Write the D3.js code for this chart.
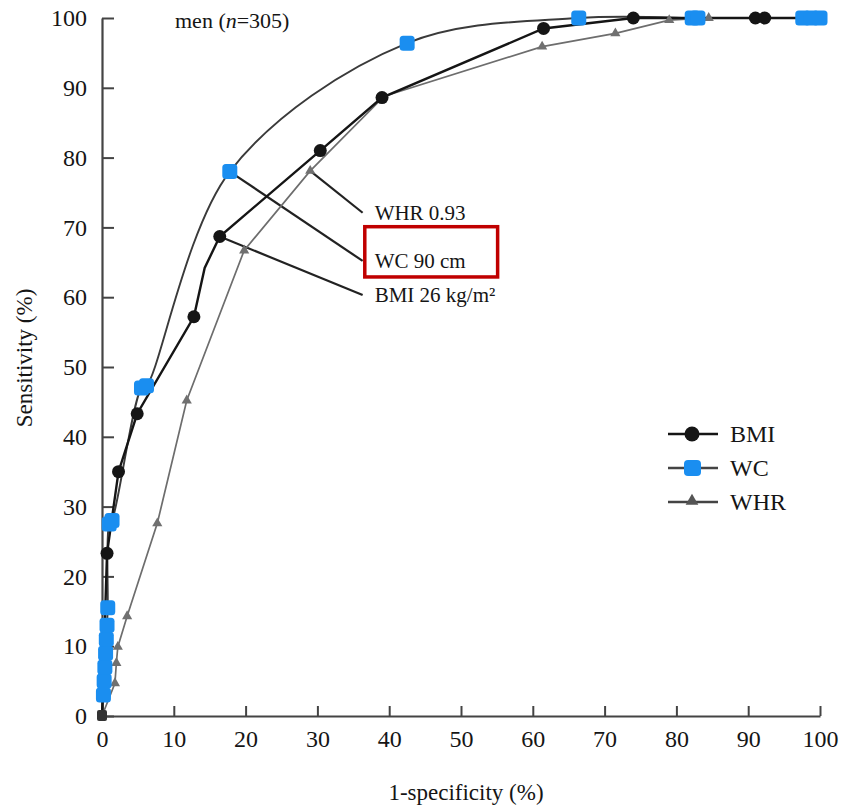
<!DOCTYPE html>
<html>
<head>
<meta charset="utf-8">
<script src="https://cdn.jsdelivr.net/npm/d3@7"></script>
<style>
  body { margin: 0; background: #fff; }
  text { font-family: "Liberation Serif", "Times New Roman", "DejaVu Serif", serif; fill: #151515; }
</style>
</head>
<body>
<div id="chart"></div>
<script>
// ROC points (1-specificity %, sensitivity %)
const bmiX = [0, 0.7, 2.3, 4.9, 12.8, 14.3, 16.4, 30.4, 39, 61.5, 74, 91.0, 92.3, 100];
const bmiY = [0, 23.3, 35, 43.3, 57.2, 64.2, 68.7, 81, 88.6, 98.5, 100, 100, 100, 100];
const bmiHidden = [0, 5, 13];

const wcX = [0, 0.2, 0.3, 0.4, 0.5, 0.6, 0.7, 0.8, 1.0, 1.4, 5.5, 6.2, 17.8, 42.5, 66.4, 82.2, 83.0, 97.6, 98.8, 100];
const wcY = [0, 3, 5, 7, 9, 11, 13, 15.5, 27.5, 28, 47, 47.3, 78, 96.4, 100, 100, 100, 100, 100, 100];
const wcHidden = [0];

const whrX = [0, 1.8, 2.0, 2.2, 3.5, 7.7, 11.8, 19.8, 29, 39.3, 61.3, 71.5, 79, 84.5, 100];
const whrY = [0, 4.7, 7.6, 9.9, 14.3, 27.6, 45.2, 66.7, 78.1, 88.8, 95.9, 97.8, 99.7, 100, 100];
const whrHidden = [0, 9, 14];

const xTicks = [0, 10, 20, 30, 40, 50, 60, 70, 80, 90, 100];
const yTicks = [0, 10, 20, 30, 40, 50, 60, 70, 80, 90, 100];

// cut-off annotations: leader from a curve point to the label
const annoLabels = ["WHR 0.93", "WC 90 cm", "BMI 26 kg/m\u00b2"];
const annoFrom = [[29, 78.1], [17.8, 78], [16.4, 68.7]];
const annoTo = [[36.3, 72.1], [36.3, 65.2], [36.3, 60.3]];
const highlightBox = [36.6, 55.1, 62.9, 70.1]; // x0, x1, y0, y1

const legendNames = ["BMI", "WC", "WHR"];

const width = 853, height = 806;
const blue = "#1a8ef0";

const x = d3.scaleLinear().domain([0, 100]).range([102, 820]);
const y = d3.scaleLinear().domain([0, 100]).range([716, 18]);

const svg = d3.select("#chart").append("svg")
    .attr("width", width)
    .attr("height", height);

// axes
const xAxis = svg.append("g")
    .attr("transform", `translate(0,${y(0)})`)
    .call(d3.axisBottom(x).tickValues(xTicks).tickSize(-10).tickSizeOuter(0).tickPadding(18));
const yAxis = svg.append("g")
    .attr("transform", `translate(${x(0)},0)`)
    .call(d3.axisLeft(y).tickValues(yTicks).tickSize(-12).tickSizeOuter(0).tickPadding(15));

[xAxis, yAxis].forEach(g => {
    g.attr("font-family", null);
    g.select(".domain").attr("stroke", "#444").attr("stroke-width", 2.2);
    g.selectAll(".tick line").attr("stroke", "#444").attr("stroke-width", 2);
    g.selectAll(".tick text")
        .attr("fill", "#151515")
        .style("font-size", "24px");
});
xAxis.selectAll(".tick text").attr("dy", "0.55em");
yAxis.selectAll(".tick text").attr("dy", "0.32em");

svg.append("text")
    .attr("x", 466)
    .attr("y", 800)
    .attr("text-anchor", "middle")
    .style("font-size", "23px")
    .text("1-specificity (%)");

svg.append("text")
    .attr("transform", "translate(32,358) rotate(-90)")
    .attr("text-anchor", "middle")
    .style("font-size", "23px")
    .text("Sensitivity (%)");

const title = svg.append("text")
    .attr("x", 175)
    .attr("y", 28)
    .style("font-size", "22px");
title.append("tspan").text("men (");
title.append("tspan").style("font-style", "italic").text("n");
title.append("tspan").text("=305)");

// curves: straight segments for BMI/WHR, smooth arc for WC
const straight = d3.line()
    .x(d => x(d[0]))
    .y(d => y(d[1]));
const smooth = d3.line()
    .x(d => x(d[0]))
    .y(d => Math.max(y(100), y(d[1])))
    .curve(d3.curveCatmullRom.alpha(0.5));

const zip = (xs, ys) => xs.map((v, i) => [v, ys[i]]);
const bmi = zip(bmiX, bmiY);
const wc = zip(wcX, wcY);
const whr = zip(whrX, whrY);

// leader lines
svg.selectAll(".leader")
    .data(annoLabels)
    .enter()
    .append("line")
    .attr("class", "leader")
    .attr("x1", (d, i) => x(annoFrom[i][0]))
    .attr("y1", (d, i) => y(annoFrom[i][1]))
    .attr("x2", (d, i) => x(annoTo[i][0]))
    .attr("y2", (d, i) => y(annoTo[i][1]))
    .attr("stroke", "#222")
    .attr("stroke-width", 2.2);

svg.append("path").datum(whr)
    .attr("d", straight).attr("fill", "none")
    .attr("stroke", "#6d6d6d").attr("stroke-width", 1.7);
svg.append("path").datum(wc)
    .attr("d", smooth).attr("fill", "none")
    .attr("stroke", "#3a3a3a").attr("stroke-width", 1.9);
svg.append("path").datum(bmi)
    .attr("d", straight).attr("fill", "none")
    .attr("stroke", "#151515").attr("stroke-width", 2.4);

// origin marker (all curves start there)
svg.append("rect")
    .attr("x", x(0) - 5).attr("y", y(0) - 6)
    .attr("width", 10).attr("height", 11)
    .attr("rx", 2)
    .attr("fill", "#333");

// markers
const tri = d3.symbol().type(d3.symbolTriangle).size(45);

svg.selectAll(".whr-pt")
    .data(whr.filter((d, i) => !whrHidden.includes(i)))
    .enter()
    .append("path")
    .attr("class", "whr-pt")
    .attr("transform", d => `translate(${x(d[0])},${y(d[1])})`)
    .attr("d", tri)
    .attr("fill", "#707070");

svg.selectAll(".bmi-pt")
    .data(bmi.filter((d, i) => !bmiHidden.includes(i)))
    .enter()
    .append("circle")
    .attr("class", "bmi-pt")
    .attr("cx", d => x(d[0]))
    .attr("cy", d => y(d[1]))
    .attr("r", 6.5)
    .attr("fill", "#151515");

svg.selectAll(".wc-pt")
    .data(wc.filter((d, i) => !wcHidden.includes(i)))
    .enter()
    .append("rect")
    .attr("class", "wc-pt")
    .attr("x", d => x(d[0]) - 7.5)
    .attr("y", d => y(d[1]) - 7.5)
    .attr("width", 15)
    .attr("height", 15)
    .attr("rx", 3.5)
    .attr("fill", blue);

// annotation labels
svg.selectAll(".anno")
    .data(annoLabels)
    .enter()
    .append("text")
    .attr("class", "anno")
    .attr("x", (d, i) => x(annoTo[i][0]) + 12)
    .attr("y", (d, i) => y(annoTo[i][1]))
    .attr("dy", "0.35em")
    .style("font-size", "21px")
    .text(d => d);

svg.append("rect")
    .attr("x", x(highlightBox[0]))
    .attr("y", y(highlightBox[3]))
    .attr("width", x(highlightBox[1]) - x(highlightBox[0]))
    .attr("height", y(highlightBox[2]) - y(highlightBox[3]))
    .attr("fill", "none")
    .attr("stroke", "#c00000")
    .attr("stroke-width", 3.5);

// legend
const legend = svg.append("g").attr("transform", "translate(668,434)");
const rowGap = 34;
legendNames.forEach((name, i) => {
    const row = legend.append("g").attr("transform", `translate(0,${i * rowGap})`);
    row.append("line")
        .attr("x1", 0).attr("x2", 50)
        .attr("stroke", i === 0 ? "#151515" : "#444")
        .attr("stroke-width", 2.4);
    if (i === 0) {
        row.append("circle").attr("cx", 24).attr("r", 7.5).attr("fill", "#151515");
    } else if (i === 1) {
        row.append("rect").attr("x", 16).attr("y", -8).attr("width", 17).attr("height", 16)
            .attr("rx", 4).attr("fill", blue);
    } else {
        row.append("path").attr("transform", "translate(24,-1)")
            .attr("d", d3.symbol().type(d3.symbolTriangle).size(70)).attr("fill", "#555");
    }
    row.append("text")
        .attr("x", 62)
        .attr("dy", "0.35em")
        .style("font-size", "24px")
        .text(name);
});
</script>
</body>
</html>
